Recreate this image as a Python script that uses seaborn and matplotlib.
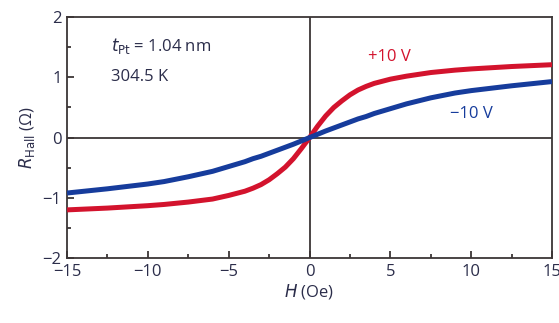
import numpy as np
import pandas as pd
import matplotlib
matplotlib.use("Agg")
import matplotlib.pyplot as plt
import seaborn as sns
from matplotlib.ticker import MultipleLocator

# Hall resistance versus field for two gate voltages
field = [-15, -12.5, -10, -9, -7.5, -6, -5, -4, -3.5, -3, -2.5, -2, -1.5, -1, -0.5, 0,
         0.5, 1, 1.5, 2, 2.5, 3, 3.5, 4, 5, 6, 7.5, 9, 10, 12.5, 15]
r_plus10 = [-1.20, -1.17, -1.13, -1.11, -1.07, -1.02, -0.96, -0.89, -0.84, -0.78, -0.70,
            -0.60, -0.49, -0.35, -0.18, 0.0,
            0.19, 0.36, 0.50, 0.61, 0.71, 0.79, 0.85, 0.90, 0.97, 1.02, 1.08, 1.12, 1.14,
            1.18, 1.21]
r_minus10 = [-0.92, -0.85, -0.77, -0.73, -0.65, -0.56, -0.48, -0.40, -0.35, -0.31, -0.26,
             -0.21, -0.16, -0.11, -0.055, 0.0,
             0.055, 0.11, 0.16, 0.21, 0.26, 0.31, 0.35, 0.40, 0.48, 0.56, 0.66, 0.74, 0.78,
             0.86, 0.93]
labels = ["+10 V", "\u221210 V"]

df = pd.concat([
    pd.DataFrame({"H": field, "R": r_plus10, "gate": labels[0]}),
    pd.DataFrame({"H": field, "R": r_minus10, "gate": labels[1]}),
])

sns.set_theme(style="ticks")
plt.rcParams["font.family"] = ["Open Sans", "DejaVu Sans"]
text_col = "#2b2d4a"
frame_col = "#3c3636"
red = "#d3132d"
blue = "#163c9c"

fig = plt.figure(figsize=(5.59, 3.23), dpi=100)
ax = fig.add_axes([0.12, 0.201, 0.8675, 0.746])

ax.axhline(0, color=frame_col, lw=1.3, zorder=1)
ax.axvline(0, color=frame_col, lw=1.3, zorder=1)

sns.lineplot(data=df, x="H", y="R", hue="gate", palette={labels[0]: red, labels[1]: blue},
             lw=3.6, legend=False, ax=ax, zorder=3)
for line in ax.lines[2:]:
    line.set_solid_capstyle("butt")
    line.set_solid_joinstyle("round")

ax.set_xlim(-15, 15)
ax.set_ylim(-2, 2)
ax.xaxis.set_major_locator(MultipleLocator(5))
ax.xaxis.set_minor_locator(MultipleLocator(2.5))
ax.yaxis.set_major_locator(MultipleLocator(1))
ax.yaxis.set_minor_locator(MultipleLocator(0.5))
ax.set_xticklabels([f"{int(v)}".replace("-", "\u2212") for v in ax.get_xticks()])
ax.set_yticklabels([f"{int(v)}".replace("-", "\u2212") for v in ax.get_yticks()])
ax.tick_params(which="major", direction="in", length=5, width=1.3, color=frame_col,
               labelsize=12, labelcolor=text_col, pad=4)
ax.tick_params(which="minor", direction="in", length=3, width=1.3, color=frame_col)
for s in ax.spines.values():
    s.set_color(frame_col)
    s.set_linewidth(1.3)

ax.set_xlabel("$H$ (Oe)", fontsize=12, color=text_col, labelpad=2)
ax.set_ylabel("$R_{\\mathrm{Hall}}$ (\u03a9)", fontsize=12, color=text_col, labelpad=4)

ax.text(-12.3, 1.52, "$t_{\\mathrm{Pt}}$ = 1.04 nm", fontsize=12, color=text_col, va="center")
ax.text(-12.3, 1.0, "304.5 K", fontsize=12, color=text_col, va="center")
ax.text(3.6, 1.34, labels[0], fontsize=12, color=red, va="center")
ax.text(8.7, 0.4, labels[1], fontsize=12, color=blue, va="center")

fig.savefig("out.png", dpi=100)
